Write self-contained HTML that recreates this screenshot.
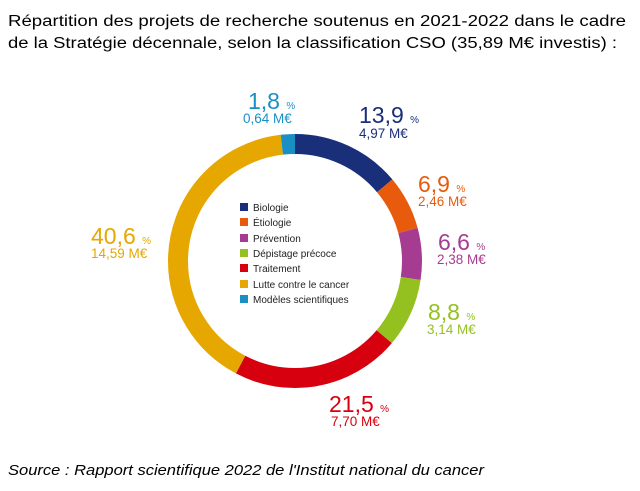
<!DOCTYPE html>
<html><head><meta charset="utf-8"><style>html,body{margin:0;padding:0;background:#fff}svg{display:block}</style></head><body>
<svg width="640" height="491" xmlns="http://www.w3.org/2000/svg" font-family="Liberation Sans, sans-serif">
<text x="8" y="26" font-size="15.5" fill="#000" textLength="618" lengthAdjust="spacingAndGlyphs">Répartition des projets de recherche soutenus en 2021-2022 dans le cadre</text>
<text x="8" y="48" font-size="15.5" fill="#000" textLength="609" lengthAdjust="spacingAndGlyphs">de la Stratégie décennale, selon la classification CSO (35,89 M€ investis) :</text>
<g transform="rotate(-90 295 261)" fill="none" stroke-width="20">
<circle cx="295" cy="261" r="117" pathLength="100" stroke="#1a2f7a" stroke-dasharray="13.9 86.1" stroke-dashoffset="0"/>
<circle cx="295" cy="261" r="117" pathLength="100" stroke="#e85b0c" stroke-dasharray="6.9 93.1" stroke-dashoffset="-13.9"/>
<circle cx="295" cy="261" r="117" pathLength="100" stroke="#a63c91" stroke-dasharray="6.6 93.4" stroke-dashoffset="-20.8"/>
<circle cx="295" cy="261" r="117" pathLength="100" stroke="#94c11f" stroke-dasharray="8.8 91.2" stroke-dashoffset="-27.4"/>
<circle cx="295" cy="261" r="117" pathLength="100" stroke="#d7000f" stroke-dasharray="21.5 78.5" stroke-dashoffset="-36.2"/>
<circle cx="295" cy="261" r="117" pathLength="100" stroke="#e6a700" stroke-dasharray="40.5 59.5" stroke-dashoffset="-57.7"/>
<circle cx="295" cy="261" r="117" pathLength="100" stroke="#1a8fc4" stroke-dasharray="1.8 98.2" stroke-dashoffset="-98.2"/>
</g>
<g font-size="10" fill="#222">
<rect x="240" y="203" width="8" height="8" fill="#1a2f7a"/><text x="253" y="211">Biologie</text>
<rect x="240" y="218" width="8" height="8" fill="#e85b0c"/><text x="253" y="226">Étiologie</text>
<rect x="240" y="234" width="8" height="8" fill="#a63c91"/><text x="253" y="242">Prévention</text>
<rect x="240" y="249" width="8" height="8" fill="#94c11f"/><text x="253" y="257">Dépistage précoce</text>
<rect x="240" y="264" width="8" height="8" fill="#d7000f"/><text x="253" y="272">Traitement</text>
<rect x="240" y="280" width="8" height="8" fill="#e6a700"/><text x="253" y="288">Lutte contre le cancer</text>
<rect x="240" y="295" width="8" height="8" fill="#1a8fc4"/><text x="253" y="303">Modèles scientifiques</text>
</g>
<g font-size="23">
<text x="248" y="109" fill="#1a8fc4">1,8 <tspan font-size="10">%</tspan></text>
<text x="243" y="123" font-size="13.5" fill="#1a8fc4">0,64 M€</text>
<text x="359" y="123" fill="#1a2f7a">13,9 <tspan font-size="10">%</tspan></text>
<text x="359" y="138" font-size="13.5" fill="#1a2f7a">4,97 M€</text>
<text x="418" y="192" fill="#e85b0c">6,9 <tspan font-size="10">%</tspan></text>
<text x="418" y="206" font-size="13.5" fill="#e85b0c">2,46 M€</text>
<text x="438" y="250" fill="#a63c91">6,6 <tspan font-size="10">%</tspan></text>
<text x="437" y="264" font-size="13.5" fill="#a63c91">2,38 M€</text>
<text x="428" y="320" fill="#94c11f">8,8 <tspan font-size="10">%</tspan></text>
<text x="427" y="334" font-size="13.5" fill="#94c11f">3,14 M€</text>
<text x="329" y="412" fill="#d7000f">21,5 <tspan font-size="10">%</tspan></text>
<text x="331" y="426" font-size="13.5" fill="#d7000f">7,70 M€</text>
<text x="91" y="244" fill="#e6a700">40,6 <tspan font-size="10">%</tspan></text>
<text x="91" y="258" font-size="13.5" fill="#e6a700">14,59 M€</text>
</g>
<text x="8" y="475" font-size="15" font-style="italic" fill="#000" textLength="476" lengthAdjust="spacingAndGlyphs">Source : Rapport scientifique 2022 de l'Institut national du cancer</text>
</svg>
</body></html>
